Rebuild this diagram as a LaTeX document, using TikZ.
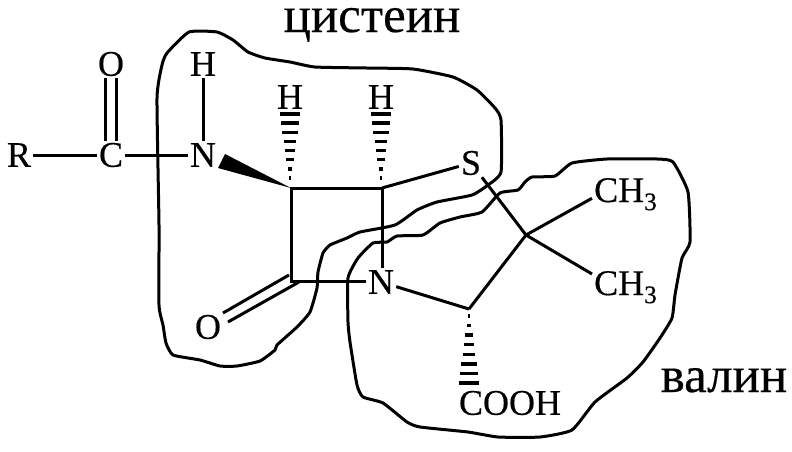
\documentclass[tikz,border=0pt]{standalone}
\usepackage{fontspec}
\setmainfont{Liberation Serif}
\newfontfamily\heavyfont[FakeBold=0.35]{Liberation Serif}
\usetikzlibrary{calc}
\tikzset{
  atom/.style={ inner sep=2pt, font=\heavyfont\fontsize{36}{36}\selectfont }
}
\tikzset{
  bond/.style={ line width=3pt }
}
\tikzset{
  blob/.style={ line width=3pt, line join=round }
}
\tikzset{
  title/.style={ inner sep=0pt, anchor=base, font=\heavyfont\fontsize{51}{51}\selectfont }
}
% hashed bond, narrow at #1 and wide at #2
\newcommand{\hashbond}[2]{
  \foreach \t in {0,...,7} {
    \pgfmathsetmacro\frac{\t/7}
    \pgfmathsetmacro\halfw{1.2+9*\frac}
    \fill ($(#1)!\frac!(#2)$) ++(-\halfw pt,-1.7pt) rectangle ++(2*\halfw pt,3.4pt);
  }
}

\begin{document}
\begin{tikzpicture}[x=1pt, y=-1pt]
      \useasboundingbox (0,0) rectangle (792,451);

      \node[atom] (R) at (19, 155) {R};
      \node[atom] (C) at (111, 155) {C};
      \node[atom] (O1) at (111, 64) {O};
      \node[atom] (N1) at (203, 155) {N};
      \node[atom] (H1) at (203, 64) {H};
      \node[atom] (H2) at (290, 97) {H};
      \node[atom] (H3) at (381, 97) {H};
      \node[atom] (S) at (471, 163) {S};
      \node[atom] (N2) at (381, 282) {N};
      \node[atom] (O2) at (208, 327) {O};
      \node[atom, anchor=base west] (CH3a) at (592, 202) {CH\textsubscript{3}};
      \node[atom, anchor=base west] (CH3b) at (592, 295) {CH\textsubscript{3}};
      \node[atom] (COOH) at (510, 403) {COOH};

      \node[title] (cys) at (372, 32) {цистеин};
      \node[title] (val) at (724, 392) {валин};

      \coordinate (c1) at (291, 188);
      \coordinate (c2) at (382, 188);
      \coordinate (c4) at (291, 281);
      \coordinate (c5) at (526, 235);
      \coordinate (c6) at (469, 309);

      \begin{scope}[bond]
        \draw (R) -- (C);
        \draw (C) -- (N1);
        \draw (N1) -- (H1);
        \draw ([xshift=-5.5pt]C.north) -- ([xshift=-5.5pt]O1.south);
        \draw ([xshift=5.5pt]C.north) -- ([xshift=5.5pt]O1.south);

        \draw[line join=miter] (c2) -- (c1) -- (c4) -- (N2.west |- c4);
        \draw (c2) -- (c2 |- N2.north);
        \draw (c2) -- (S);
        \draw (S) -- (c5);
        \draw (c5) -- ([yshift=-4pt]CH3a.west);
        \draw (c5) -- ([yshift=-5pt]CH3b.north west);
        \draw (c5) -- (c6);
        \draw (c6) -- (N2);

        \draw ([shift={(-2,-6)}]c4) -- ([shift={(15,-14)}]O2.center);
        \draw ([shift={(8,1)}]c4) -- ([shift={(20,-5)}]O2.center);
      \end{scope}

      % wedge from the ring to N
      \fill (c1) -- (218, 168) -- (225, 154) -- cycle;

      \coordinate (h2b) at (290, 114);
      \coordinate (h3b) at (381, 114);
      \coordinate (h4b) at (469, 383);
      \coordinate (h2a) at (290, 178);
      \coordinate (h3a) at (381, 178);
      \coordinate (h4a) at (469, 316);
      \hashbond{h2a}{h2b}
      \hashbond{h3a}{h3b}
      \hashbond{h4a}{h4b}

      % cysteine part
      \draw[blob] plot[smooth cycle, tension=0.3] coordinates {
        (159,225) (157,98) (162,65) (167,53) (189,32) (217,32) (233,40) (248,52)
        (265,58) (290,62) (315,67) (367,68) (413,69) (453,77) (477,90) (495,108)
        (501,120) (501,172) (488,185) (472,195) (437,202) (417,210) (395,225)
        (360,232) (347,238) (330,245) (323,253) (318,272) (317,288) (310,312)
        (297,327) (277,345) (275,350) (260,361) (237,366) (220,366) (200,360)
        (173,355) (166,343) (163,325) (159,305)
      };
      % valine part
      \draw[blob] plot[smooth cycle, tension=0.3] coordinates {
        (482,212) (500,193) (518,190) (525,182) (532,177) (555,176) (572,163)
        (607,159) (657,159) (673,162) (688,192) (690,242) (682,258) (675,295)
        (672,318) (660,338) (643,362) (627,378) (595,402) (572,430) (540,437)
        (498,437) (468,432) (420,427) (407,422) (383,403) (363,397) (357,385)
        (350,342) (348,322) (348,278) (358,258) (373,243) (387,242) (397,236)
        (423,235) (440,223) (460,217)
      };
\end{tikzpicture}
\end{document}
